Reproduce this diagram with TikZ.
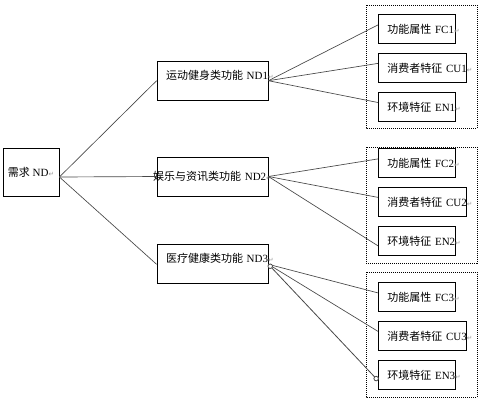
\documentclass[tikz,border=0pt]{standalone}
\usepackage{fontspec}
\setmainfont{Liberation Serif}
\newfontfamily\zhfont{Noto Sans CJK SC}
\newfontfamily\markfont{DejaVu Sans}
\usepackage{xcolor}
\usepackage{tikz}
\usetikzlibrary{positioning,arrows.meta}
\definecolor{dLink}{RGB}{72,72,72}
\definecolor{dMark}{RGB}{150,150,150}
\newcommand{\zh}[1]{{\zhfont #1}}
\newcommand{\ret}{{\markfont\fontsize{5pt}{6pt}\selectfont\color{dMark}↵}}
\tikzset{
  txt/.style={font=\fontsize{8.25pt}{10pt}\selectfont},
  need/.style={rectangle, draw=black, line width=0.6pt, minimum width=42pt,
               minimum height=36pt, inner sep=0pt, txt},
  func/.style={rectangle, draw=black, line width=0.6pt, minimum height=29.25pt,
               text width=69.75pt, inner xsep=6.75pt, inner ysep=0pt,
               align=left, txt},
  functop/.style={func, text depth=9.5pt},
  leaf/.style={rectangle, draw=black, line width=0.6pt, minimum height=21.75pt,
               text width=44.25pt, inner xsep=6.75pt, inner ysep=0pt,
               align=left, anchor=north west, txt},
  leafw/.style={leaf, text width=52.5pt},
  grp/.style={draw=black, line width=0.75pt, dash pattern=on 0.75pt off 0.75pt},
  link/.style={draw=dLink, line width=0.5pt},
  ends/.style={line width=0.6pt,
    arrows={Circle[open,length=4pt,fill=white]-Circle[open,length=4pt,fill=white]}},
}

\begin{document}
\begin{tikzpicture}[x=0.75pt, y=-0.75pt]
  \useasboundingbox (0,0) rectangle (488,405);
  % demand and the three function groups
  \node[need] (ND) at (31,172) {\zh{需求} ND\ret};
  \node[func] (ND2) at (212.5,176.5)
    {\makebox[\linewidth]{\zh{娱乐与资讯类功能} ND2\ret}};
  \node[functop, above=42pt of ND2] (ND1) {\mbox{\zh{运动健身类功能} ND1\ret}};
  \node[functop, below=36pt of ND2] (ND3) {\mbox{\zh{医疗健康类功能} ND3\ret}};
  % attribute boxes
  \foreach \g/\top in {1/14,2/148,3/282}{
    \node[leaf] (FC\g) at (378,\top) {\mbox{\zh{功能属性} FC\g\ret}};
    \node[leafw, below=7pt of FC\g.south west, anchor=north west] (CU\g)
      {\mbox{\zh{消费者特征} CU\g\ret}};
    \node[leaf, below=7pt of CU\g.south west, anchor=north west] (EN\g)
      {\mbox{\zh{环境特征} EN\g\ret}};
  }
  \foreach \top/\bot in {5/128,147/263,272/397}
    \draw[grp] (366,\top) rectangle (477,\bot);
  % connectors
  \foreach \g in {1,2,3}{
    \draw[link] ([yshift=-3.75pt]ND.east) -- (ND\g.west);
    \draw[link] (ND\g.east) -- ([yshift=3pt]FC\g.west);
    \draw[link] (ND\g.east) -- ([yshift=3.5pt]CU\g.west);
  }
  \draw[link] (ND1.east) -- ([yshift=3.5pt]EN1.west);
  \draw[link] (ND2.east) -- ([yshift=-3.5pt]EN2.west);
  \draw[link, ends] (ND3.east) -- ([yshift=-4pt]EN3.west);
\end{tikzpicture}
\end{document}
